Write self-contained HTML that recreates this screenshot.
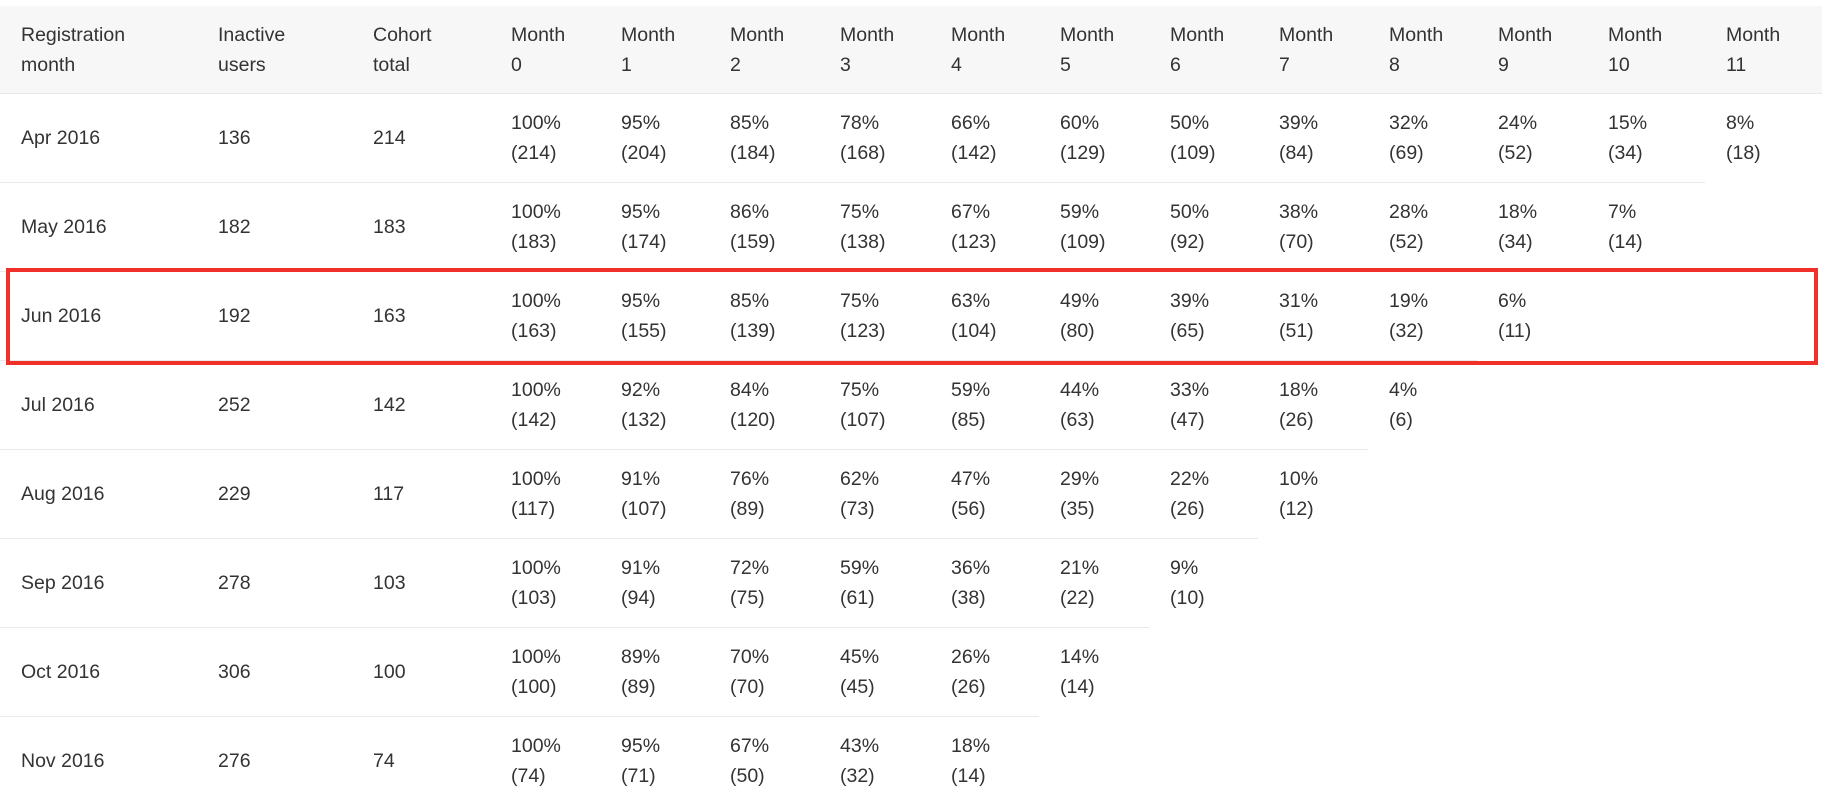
<!DOCTYPE html>
<html><head><meta charset="utf-8"><style>
body{margin:0;background:#fff;width:1838px;height:806px;overflow:hidden;position:relative;font-family:"Liberation Sans",sans-serif;color:#333;}
table{position:absolute;left:0;top:6px;border-collapse:collapse;table-layout:fixed;width:1822px;font-size:19.5px;}
th{background:#f7f7f7;font-weight:normal;text-align:left;height:87px;padding:0 0 0 21px;line-height:30px;vertical-align:middle;}
td{height:88px;padding:0 0 0 21px;line-height:30px;border-top:1px solid #e9e9e9;vertical-align:middle;}
.box{position:absolute;left:6px;top:268px;width:1812px;height:97px;border:4px solid #f0302a;box-sizing:border-box;}
</style></head><body>
<table>
<colgroup><col style="width:197px"><col style="width:155px"><col style="width:138px"><col style="width:110px"><col style="width:109px"><col style="width:110px"><col style="width:111px"><col style="width:109px"><col style="width:110px"><col style="width:109px"><col style="width:110px"><col style="width:109px"><col style="width:110px"><col style="width:118px"><col style="width:117px"></colgroup>
<tr><th>Registration<br>month</th><th>Inactive<br>users</th><th>Cohort<br>total</th><th>Month<br>0</th><th>Month<br>1</th><th>Month<br>2</th><th>Month<br>3</th><th>Month<br>4</th><th>Month<br>5</th><th>Month<br>6</th><th>Month<br>7</th><th>Month<br>8</th><th>Month<br>9</th><th>Month<br>10</th><th>Month<br>11</th></tr>
<tr><td>Apr 2016</td><td>136</td><td>214</td><td>100%<br>(214)</td><td>95%<br>(204)</td><td>85%<br>(184)</td><td>78%<br>(168)</td><td>66%<br>(142)</td><td>60%<br>(129)</td><td>50%<br>(109)</td><td>39%<br>(84)</td><td>32%<br>(69)</td><td>24%<br>(52)</td><td>15%<br>(34)</td><td>8%<br>(18)</td></tr>
<tr><td>May 2016</td><td>182</td><td>183</td><td>100%<br>(183)</td><td>95%<br>(174)</td><td>86%<br>(159)</td><td>75%<br>(138)</td><td>67%<br>(123)</td><td>59%<br>(109)</td><td>50%<br>(92)</td><td>38%<br>(70)</td><td>28%<br>(52)</td><td>18%<br>(34)</td><td>7%<br>(14)</td></tr>
<tr><td>Jun 2016</td><td>192</td><td>163</td><td>100%<br>(163)</td><td>95%<br>(155)</td><td>85%<br>(139)</td><td>75%<br>(123)</td><td>63%<br>(104)</td><td>49%<br>(80)</td><td>39%<br>(65)</td><td>31%<br>(51)</td><td>19%<br>(32)</td><td>6%<br>(11)</td></tr>
<tr><td>Jul 2016</td><td>252</td><td>142</td><td>100%<br>(142)</td><td>92%<br>(132)</td><td>84%<br>(120)</td><td>75%<br>(107)</td><td>59%<br>(85)</td><td>44%<br>(63)</td><td>33%<br>(47)</td><td>18%<br>(26)</td><td>4%<br>(6)</td></tr>
<tr><td>Aug 2016</td><td>229</td><td>117</td><td>100%<br>(117)</td><td>91%<br>(107)</td><td>76%<br>(89)</td><td>62%<br>(73)</td><td>47%<br>(56)</td><td>29%<br>(35)</td><td>22%<br>(26)</td><td>10%<br>(12)</td></tr>
<tr><td>Sep 2016</td><td>278</td><td>103</td><td>100%<br>(103)</td><td>91%<br>(94)</td><td>72%<br>(75)</td><td>59%<br>(61)</td><td>36%<br>(38)</td><td>21%<br>(22)</td><td>9%<br>(10)</td></tr>
<tr><td>Oct 2016</td><td>306</td><td>100</td><td>100%<br>(100)</td><td>89%<br>(89)</td><td>70%<br>(70)</td><td>45%<br>(45)</td><td>26%<br>(26)</td><td>14%<br>(14)</td></tr>
<tr><td>Nov 2016</td><td>276</td><td>74</td><td>100%<br>(74)</td><td>95%<br>(71)</td><td>67%<br>(50)</td><td>43%<br>(32)</td><td>18%<br>(14)</td></tr>
</table>
<div class="box"></div>
</body></html>
